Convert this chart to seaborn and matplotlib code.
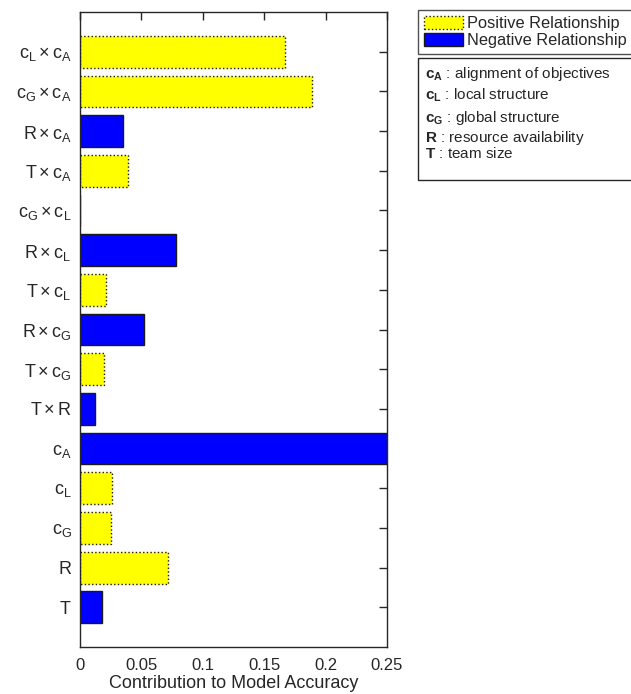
import matplotlib
matplotlib.use("Agg")
import matplotlib.pyplot as plt
import matplotlib.patches as mpatches
from matplotlib.ticker import FuncFormatter
import seaborn as sns
import pandas as pd

# Terms of the model, top to bottom
terms = [
    r"$\mathregular{c_L \times c_A}$",
    r"$\mathregular{c_G \times c_A}$",
    r"$\mathregular{R \times c_A}$",
    r"$\mathregular{T \times c_A}$",
    r"$\mathregular{c_G \times c_L}$",
    r"$\mathregular{R \times c_L}$",
    r"$\mathregular{T \times c_L}$",
    r"$\mathregular{R \times c_G}$",
    r"$\mathregular{T \times c_G}$",
    r"$\mathregular{T \times R}$",
    r"$\mathregular{c_A}$",
    r"$\mathregular{c_L}$",
    r"$\mathregular{c_G}$",
    r"$\mathregular{R}$",
    r"$\mathregular{T}$",
]
contribution = [0.167, 0.1887, 0.0347, 0.0393, 0.0, 0.0784, 0.0214,
                0.0521, 0.0193, 0.012, 0.25, 0.0258, 0.0255, 0.0719, 0.0182]
relationship = ["Positive", "Positive", "Negative", "Positive", "Positive",
                "Negative", "Positive", "Negative", "Positive", "Negative",
                "Negative", "Positive", "Positive", "Positive", "Negative"]
x_ticks = [0, 0.05, 0.1, 0.15, 0.2, 0.25]

sns.set_theme(style="white")
plt.rcParams.update({
    "font.family": ["Liberation Sans", "DejaVu Sans"],
    "mathtext.fontset": "custom",
    "mathtext.rm": "Liberation Sans",
    "mathtext.it": "Liberation Sans:italic",
    "mathtext.bf": "Liberation Sans:bold",
    "axes.edgecolor": "#262626",
    "axes.linewidth": 1.0,
})

df = pd.DataFrame({"term": terms, "value": contribution, "rel": relationship})
colors = {"Positive": "#ffff00", "Negative": "#0000ff"}
hue_order = ["Positive", "Negative"]

fig = plt.figure(figsize=(6.31, 6.94), dpi=100)
ax = fig.add_axes([0.1268, 0.0677, 0.4865, 0.915])

sns.barplot(data=df, x="value", y="term", hue="rel", hue_order=hue_order,
            palette=colors, dodge=False, width=0.8, orient="h",
            legend=False, ax=ax, saturation=1)

for level, cont in zip(hue_order, ax.containers):
    for bar in cont:
        bar.set_edgecolor("#1a1a1a")
        bar.set_linewidth(1.0)
        bar.set_linestyle(":" if level == "Positive" else "-")

ax.set_xlim(0, 0.25)
ax.set_ylim(len(terms), -1)
ax.set_xticks(x_ticks)
ax.xaxis.set_major_formatter(FuncFormatter(lambda v, p: f"{v:g}"))
ax.tick_params(axis="both", direction="in", length=6, width=1,
               color="#262626", top=True, right=True)
ax.tick_params(axis="y", labelsize=13, pad=6)
ax.tick_params(axis="x", labelsize=12, pad=8)
ax.set_ylabel("")
ax.set_xlabel("Contribution to Model Accuracy", fontsize=13, labelpad=1.5)
for s in ax.spines.values():
    s.set_visible(True)

# Legend for the sign of each relationship
handles = [
    mpatches.Patch(facecolor="#ffff00", edgecolor="#1a1a1a", linestyle=":",
                   linewidth=1.0, label="Positive Relationship"),
    mpatches.Patch(facecolor="#0000ff", edgecolor="#1a1a1a",
                   linewidth=1.0, label="Negative Relationship"),
]
leg = fig.legend(handles=handles, loc="upper left",
                 bbox_to_anchor=(0.6624, 0.9855), fontsize=11.8,
                 frameon=True, fancybox=False, borderpad=0.35,
                 handlelength=2.4, handleheight=0.85, handletextpad=0.25,
                 labelspacing=0.12, borderaxespad=0)
leg.get_frame().set_edgecolor("#262626")
leg.get_frame().set_linewidth(1.0)

# Key to the variable symbols
fig.patches.append(mpatches.Rectangle((0.6624, 0.7406), 0.40, 0.1758,
                                      transform=fig.transFigure,
                                      facecolor="white", edgecolor="#262626",
                                      linewidth=1.0))
key_lines = [
    (r"$\mathbf{c_A}$ : alignment of objectives", 78),
    (r"$\mathbf{c_L}$ : local structure", 100),
    (r"$\mathbf{c_G}$ : global structure", 122),
    (r"$\mathbf{R}$ : resource availability", 142),
    (r"$\mathbf{T}$ : team size", 158),
]
for txt, ypx in key_lines:
    fig.text(425 / 631, 1 - ypx / 694, txt, fontsize=11,
             va="baseline", ha="left")

fig.savefig("out.png", dpi=100)
